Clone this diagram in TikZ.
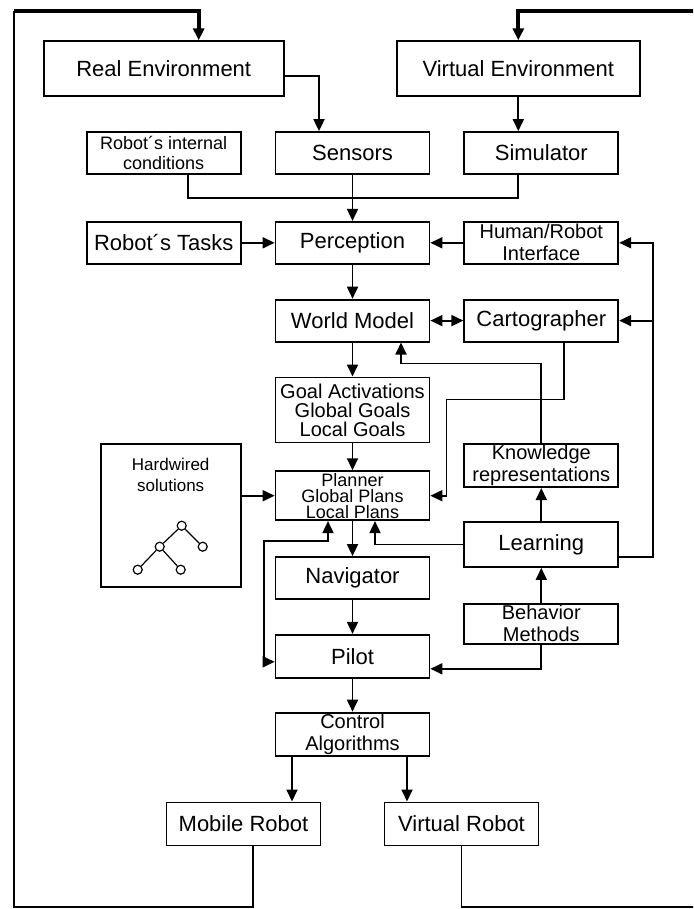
\documentclass[tikz,border=0pt]{standalone}
\usepackage{fontspec}
\setmainfont{Liberation Sans}
\usepackage{tikz}
\usetikzlibrary{arrows.meta,positioning,calc}
\tikzset{
  block/.style={rectangle, draw=black, line width=0.9pt, fill=white,
                minimum width=77pt, minimum height=21pt, align=center,
                font=\fontsize{11}{13}\selectfont, inner sep=0pt},
  twoline/.style={block, font=\fontsize{10}{11}\selectfont},
  envblock/.style={block, minimum height=27.5pt},
  treenode/.style={circle, draw=black, line width=0.6pt, minimum size=4.5pt, inner sep=0pt},
  conn/.style={line width=0.9pt},
  arrow/.style={-{Triangle[length=6pt,width=5.5pt]}, line width=0.9pt},
  darrow/.style={{Triangle[length=6pt,width=5.5pt]}-{Triangle[length=6pt,width=5.5pt]}, line width=0.9pt},
  loopline/.style={line width=2pt},
}

\begin{document}
\begin{tikzpicture}[x=0.5pt, y=-0.5pt, node distance=17pt and 16.5pt]
  \useasboundingbox (0,0) rectangle (693,909);
  \clip (0,0) rectangle (693,909);
  \node[block] (sensors) at (352.5,153) {Sensors};
  \node[block, below=23pt of sensors] (percep) {Perception};
  \node[block, below=of percep] (world) {World Model};
  \node[block, below=of world, minimum height=32.5pt, font=\fontsize{10}{9.5}\selectfont] (goals) {Goal Activations\\Global Goals\\Local Goals};
  \node[block, below=13.5pt of goals, minimum height=24.5pt, font=\fontsize{9}{8}\selectfont] (planner) {Planner\\Global Plans\\Local Plans};
  \node[block, below=17.5pt of planner] (nav) {Navigator};
  \node[block, below=of nav, minimum height=21.5pt] (pilot) {Pilot};
  \node[twoline, below=16.5pt of pilot, minimum height=21.5pt] (ctrl) {Control\\Algorithms};
  \node[block, below=22.5pt of ctrl, xshift=-54.5pt, minimum height=21.5pt] (mobile) {Mobile Robot};
  \node[block, below=22.5pt of ctrl, xshift=54.5pt, minimum height=21.5pt] (virtrobot) {Virtual Robot};
  \node[twoline, left=of sensors, font=\fontsize{9}{10}\selectfont] (internal) {Robot´s internal\\conditions};
  \node[block, right=of sensors] (sim) {Simulator};
  \node[block, left=of percep] (tasks) {Robot´s Tasks};
  \node[twoline, right=of percep] (hri) {Human/Robot\\Interface};
  \node[block, right=of world] (carto) {Cartographer};
  \node[envblock, above=of internal, minimum width=120pt] (realenv) {Real Environment};
  \node[envblock, above=of sim, xshift=-11.5pt, minimum width=121.5pt] (virtenv) {Virtual Environment};
  \node[twoline, below right=0pt and 16.5pt of goals, minimum height=21.5pt] (know) {Knowledge\\representations};
  \node[block, below=16.5pt of know, minimum height=22.5pt] (learn) {Learning};
  \node[twoline, below=17.5pt of learn, minimum height=20pt] (behav) {Behavior\\Methods};
  \node[block, below left=0pt and 16.5pt of goals, minimum width=70pt, minimum height=71.5pt] (hard) {};
  \node[align=center, inner sep=0pt, font=\fontsize{8.5}{10.5}\selectfont, below=7pt of hard.north] (hardtext) {Hardwired\\solutions};
  \node[treenode] (t1) at ($(hard.center)+(11,10)$) {};
  \node[treenode] (t2) at ($(hard.center)+(-11,31)$) {};
  \node[treenode] (t3) at ($(hard.center)+(32,31)$) {};
  \node[treenode] (t4) at ($(hard.center)+(-33,54)$) {};
  \node[treenode] (t5) at ($(hard.center)+(10,54)$) {};
  \draw[line width=0.6pt] (t1) -- (t2) (t1) -- (t3) (t2) -- (t4) (t2) -- (t5);
  \coordinate (join) at ($(sensors.south)!0.5!(percep.north)$);
  \coordinate (bus) at ($(hri.east)+(33.5,0)$);
  \coordinate (pp) at ($(planner.south west)+(-11,20)$);
  \coordinate (cornerBL) at (14,907);
  \coordinate (cornerTL) at (14,11);
  \coordinate (cornerBR) at (705,907);
  \coordinate (cornerTR) at (705,11);
  \draw[arrow] ([yshift=-3.75pt]realenv.east) -| ([xshift=-16.75pt]sensors.north);
  \draw[arrow] (virtenv.south) -- (virtenv.south |- sim.north);
  \draw[conn] ([xshift=12pt]internal.south) |- (join) -| (virtenv.south |- sim.south);
  \draw[arrow] (sensors) -- (percep);
  \draw[arrow] (tasks) -- (percep);
  \draw[arrow] (hri) -- (percep);
  \draw[arrow] (percep) -- (world);
  \draw[darrow] (world) -- (carto);
  \draw[arrow] (world) -- (goals);
  \draw[arrow] (goals) -- (planner);
  \draw[arrow] (planner) -- (nav);
  \draw[arrow] (nav) -- (pilot);
  \draw[arrow] (pilot) -- (ctrl);
  \draw[arrow] ([xshift=-30.25pt]ctrl.south) -- ([xshift=-30.25pt]ctrl.south |- mobile.north);
  \draw[arrow] ([xshift=27.25pt]ctrl.south) -- ([xshift=27.25pt]ctrl.south |- virtrobot.north);
  \draw[arrow] (learn) -- (know);
  \draw[arrow] (behav) -- (learn);
  \draw[arrow] (hard.east |- planner.west) -- (planner.west);
  \draw[arrow] (know.north) |- ([xshift=24.25pt,yshift=-10.5pt]world.south) -- ([xshift=24.25pt]world.south);
  \draw[arrow] ([xshift=11.25pt]carto.south) |- ([xshift=8pt,yshift=5.25pt]goals.east) |- (planner.east);
  \draw[arrow] (learn.west) -| ([xshift=11.25pt]planner.south);
  \draw[darrow] ([xshift=-12.25pt]planner.south) |- (pp) |- ([yshift=-2.75pt]pilot.west);
  \draw[arrow] (behav.south) |- ([yshift=-6.25pt]pilot.east);
  \draw[arrow] ([yshift=-6.25pt]learn.east) -| (bus) -- (hri.east);
  \draw[arrow] (bus |- carto.east) -- (carto.east);
  \draw[conn] ([xshift=4.75pt]mobile.south) |- (cornerBL) -- (cornerTL);
  \draw[arrow, loopline] (cornerTL) -| ([xshift=17.5pt]realenv.north);
  \draw[conn] (virtrobot.south) |- (cornerBR) -- (cornerTR);
  \draw[arrow, loopline] (cornerTR) -| (virtenv.north);
\end{tikzpicture}
\end{document}
